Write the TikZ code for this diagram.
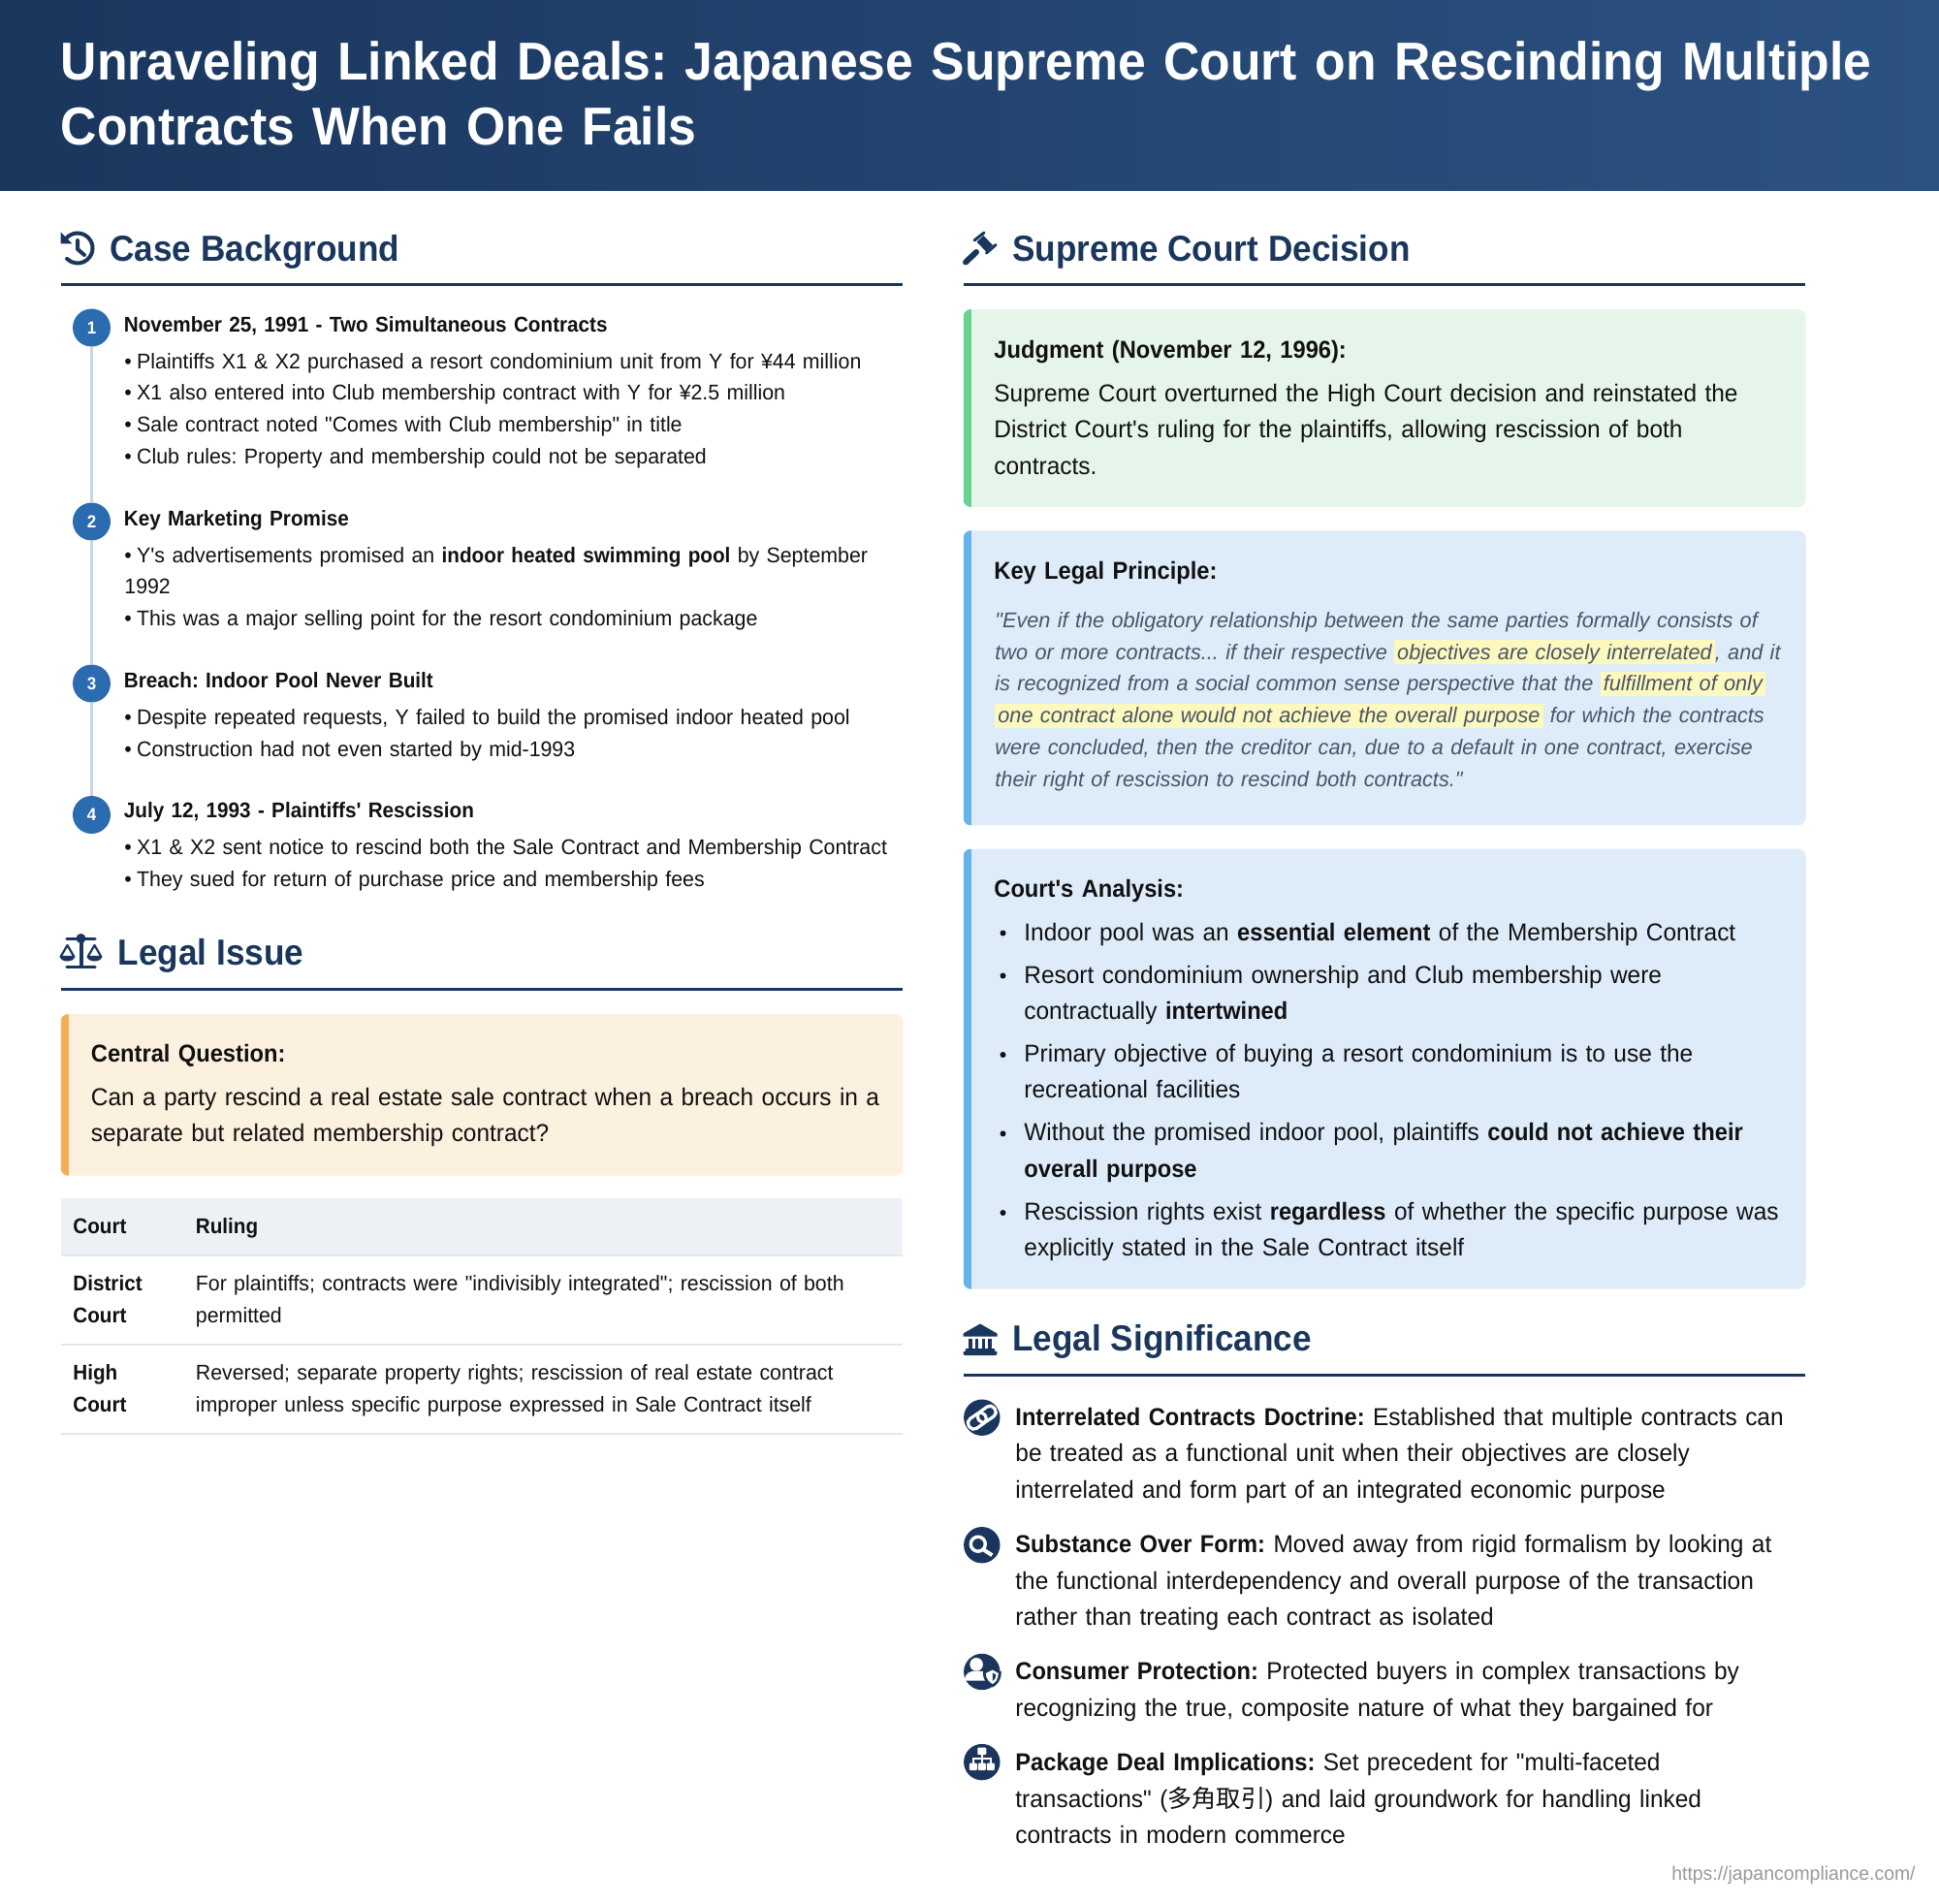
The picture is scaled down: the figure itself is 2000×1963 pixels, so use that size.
\documentclass[tikz,border=0pt]{standalone}
\usepackage{fontspec}
\setmainfont{Liberation Sans}[Ligatures=TeXOff,
    UprightFeatures={FakeStretch=0.97},
    BoldFeatures={FakeStretch=0.94},
    ItalicFeatures={FakeStretch=0.986}]
\newfontfamily\cjk{Noto Sans CJK JP}
\frenchspacing

\definecolor{navy}{HTML}{1A365D}
\definecolor{navyend}{HTML}{2C5282}
\definecolor{stepblue}{HTML}{2B6CB0}
\definecolor{stepgrey}{HTML}{CBD5E0}
\definecolor{orangefill}{HTML}{FCF0DE}
\definecolor{orangebar}{HTML}{F6AD55}
\definecolor{greenfill}{HTML}{E6F5EA}
\definecolor{greenbar}{HTML}{68D391}
\definecolor{bluefill}{HTML}{DEECFA}
\definecolor{bluebar}{HTML}{63B3ED}
\definecolor{tablehead}{HTML}{EDF0F5}
\definecolor{tablerule}{HTML}{E2E8F0}
\definecolor{quotegrey}{HTML}{4A5568}
\definecolor{markyellow}{HTML}{FCF8BE}
\definecolor{bodyblack}{HTML}{111111}

\newcommand{\markup}[1]{{\setlength\fboxsep{0pt}\colorbox{markyellow}{\rule[-2.5pt]{0pt}{12.5pt}\kern1.5pt#1\kern1.5pt}}}
\newcommand{\pip}{•\kern-1pt\ }
% left, top, bottom, fill, bar
\newcommand{\panelbox}[5]{%
    \fill[#4, rounded corners=4pt] (#1,#2) rectangle (#1+869,#3);
    \begin{scope}
        \clip[rounded corners=4pt] (#1,#2) rectangle (#1+869,#3);
        \fill[#5] (#1,#2) rectangle (#1+8,#3);
    \end{scope}}

\tikzset{
    titletext/.style = {anchor=base west, inner sep=0pt, text width=1900*0.5pt, align=left, text=white,
        font=\fontsize{27.5}{33.7}\selectfont\bfseries},
    headtext/.style = {anchor=base west, inner sep=0pt, text=navy,
        font=\fontsize{18.7}{24}\selectfont\bfseries},
    headrule/.style = {navy, line width=1.5pt},
    stepdot/.style = {circle, fill=stepblue, text=white, minimum size=19.5pt, inner sep=0pt,
        font=\fontsize{9}{10}\selectfont\bfseries},
    stepline/.style = {stepgrey, line width=1.75pt},
    smalltext/.style = {anchor=base west, inner sep=0pt, text width=440pt, align=left, text=bodyblack,
        font=\fontsize{11}{16.4}\selectfont},
    bigtext/.style = {anchor=base west, inner sep=0pt, text width=440pt, align=left, text=bodyblack,
        font=\fontsize{12.6}{18.85}\selectfont},
    quotetext/.style = {smalltext, text=quotegrey, font=\fontsize{11}{16.4}\selectfont\itshape},
    cellhead/.style = {smalltext, text width=200pt, font=\fontsize{11}{16.4}\selectfont\bfseries},
    icondot/.style = {circle, fill=navy, minimum size=18.7pt, inner sep=0pt},
    navyicon/.style = {navy, line width=2pt},
    pics/historyicon/.style = {code={
        \draw[navyicon, line cap=round] (0,0) ++(215:15.5) arc[start angle=215, end angle=495, radius=15.5];
        \fill[navy] (-17.5,-16.5) -- (-5.5,-4.5) -- (-17.5,-4.5) -- cycle;
        \draw[navyicon, line cap=round, line join=round] (0,-8) -- (0,1) -- (7,7);
    }},
    pics/gavelicon/.style = {code={
        \fill[navy] (3.5,-13) -- (13,-3) -- (6,3.5) -- (-3.5,-6.5) -- cycle;
        \draw[navy, line width=1.5pt, line cap=round] (4,-16) -- (-6,-8) (16,-3.5) -- (6.5,5);
        \draw[navy, line width=3pt, line cap=round] (-15,14.5) -- (-4,4);
    }},
    pics/scalesicon/.style = {code={
        \draw[navy, line width=1.75pt, line cap=round] (-14.5,-14.7) -- (14.5,-14.7);
        \fill[navy] (0,-15) circle (5);
        \draw[navyicon] (0,-14) -- (0,14);
        \draw[navy, line width=1.75pt, line cap=round] (-14.5,14.3) -- (14.5,14.3);
        \foreach \s in {-1,1} {
            \draw[navy, line width=1.1pt, line join=round] (\s*14,-8) -- (\s*14-7,4) -- (\s*14+7,4) -- cycle;
            \fill[navy] (\s*14+7.5,4) arc[start angle=0, end angle=180, x radius=7.5, y radius=4.5] -- cycle;
        }
    }},
    pics/landmarkicon/.style = {code={
        \fill[navy] (0,-16) -- (17.5,-6) -- (17.5,-3) -- (-17.5,-3) -- (-17.5,-6) -- cycle;
        \foreach \cx in {-10,-3.5,3.5,10} \fill[navy] (\cx-1.7,-1) rectangle (\cx+1.7,9);
        \fill[navy] (-15,9) rectangle (15,12);
        \fill[navy, rounded corners=1pt] (-17.5,12) rectangle (17.5,16.5);
    }},
    pics/linkicon/.style = {code={
        \begin{scope}[rotate=35]
            \draw[white, line width=1.6pt, rounded corners=2.6pt] (-16,-6) rectangle (4,6);
            \draw[white, line width=1.6pt, rounded corners=2.6pt] (-4,-6) rectangle (16,6);
        \end{scope}
    }},
    pics/searchicon/.style = {code={
        \draw[white, line width=1.7pt] (-4,-1) circle (7.5);
        \draw[white, line width=2pt] (2,5) -- (10.5,10.5);
    }},
    pics/usericon/.style = {code={
        \fill[white] (-5.7,-7.7) circle (6.8);
        \fill[white] (-17.7,9) .. controls (-17.7,1) and (-12,-1) .. (-6,-1) .. controls (0,-1) and (3,0) .. (5,1) -- (5,9) -- cycle;
        \fill[navy] (1,0) -- (11,-5) -- (20,0) .. controls (20,9) and (15,14) .. (11,16) .. controls (6,14) and (1,9) .. (1,0) -- cycle;
        \fill[white] (4,1.5) -- (11,-2) -- (17,1.5) .. controls (17,7) and (14,11) .. (11,12.5) .. controls (8,11) and (4,7) .. (4,1.5) -- cycle;
        \fill[navy] (11,1) -- (14.5,3) .. controls (14.5,6) and (13,8.5) .. (11,9.5) -- cycle;
    }},
    pics/sitemapicon/.style = {code={
        \fill[white, rounded corners=.5pt] (-4.5,-15) rectangle (4.5,-7.5);
        \draw[white, line width=.9pt] (0,-7.5) -- (0,1) (-9,1) -- (-9,-3.3) -- (9,-3.3) -- (9,1);
        \foreach \cx in {-9,0,9} \fill[white, rounded corners=.5pt] (\cx-4,1) rectangle (\cx+4,8.5);
    }}
}

\begin{document}
\begin{tikzpicture}[x=0.5pt, y=-0.5pt]
    \useasboundingbox (0,0) rectangle (2000,1963);
    \fill[white] (0,0) rectangle (2000,1963);

    % banner
    \shade[left color=navy, right color=navyend] (0,0) rectangle (2000,197);
    \node[titletext] (bannertitle) at (62.5,82.5) {Unraveling Linked Deals: Japanese Supreme Court on Rescinding Multiple\\Contracts When One Fails};

    % case background
    \pic at (80,256) {historyicon};
    \node[headtext] (backhead) at (113,269.5) {Case Background};
    \draw[headrule] (62.5,294) -- (931,294);

    \foreach \n/\yy in {1/338,2/538,3/705,4/840.5}
        \node[stepdot] (step\n) at (94.5,\yy) {\n};
    \draw[stepline] (step1) -- (step2);
    \draw[stepline] (step2) -- (step3);
    \draw[stepline] (step3) -- (step4);

    \node[smalltext] (stepa) at (127.5,342.7) {\textbf{November 25, 1991 - Two Simultaneous Contracts}};
    \node[smalltext] (stepabody) at (128,380) {\pip Plaintiffs X1 \& X2 purchased a resort condominium unit from Y for ¥44 million\\
        \pip X1 also entered into Club membership contract with Y for ¥2.5 million\\
        \pip Sale contract noted "Comes with Club membership" in title\\
        \pip Club rules: Property and membership could not be separated};
    \node[smalltext] (stepb) at (127.5,542.5) {\textbf{Key Marketing Promise}};
    \node[smalltext] (stepbbody) at (128,580) {\pip Y's advertisements promised an \textbf{indoor heated swimming pool} by September\\
        1992\\
        \pip This was a major selling point for the resort condominium package};
    \node[smalltext] (stepc) at (127.5,709.5) {\textbf{Breach: Indoor Pool Never Built}};
    \node[smalltext] (stepcbody) at (128,747.5) {\pip Despite repeated requests, Y failed to build the promised indoor heated pool\\
        \pip Construction had not even started by mid-1993};
    \node[smalltext] (stepd) at (127.5,843.7) {\textbf{July 12, 1993 - Plaintiffs' Rescission}};
    \node[smalltext] (stepdbody) at (128,881.3) {\pip X1 \& X2 sent notice to rescind both the Sale Contract and Membership Contract\\
        \pip They sued for return of purchase price and membership fees};

    % legal issue
    \pic at (83.5,983) {scalesicon};
    \node[headtext] (issuehead) at (121.5,995.5) {Legal Issue};
    \draw[headrule] (62.5,1020) -- (931,1020);
    \panelbox{62.5}{1046}{1212.7}{orangefill}{orangebar}
    \node[bigtext] (issuetitle) at (93.5,1095) {\textbf{Central Question:}};
    \node[bigtext] (issuebody) at (93.5,1140) {Can a party rescind a real estate sale contract when a breach occurs in a\\
        separate but related membership contract?};

    \fill[tablehead] (62.5,1236) rectangle (931,1295);
    \draw[tablerule, line width=.75pt] (62.5,1295) -- (931,1295);
    \draw[tablerule, line width=.75pt] (62.5,1387) -- (931,1387);
    \draw[tablerule, line width=.75pt] (62.5,1479) -- (931,1479);
    \node[cellhead] (courthead) at (75,1272.2) {Court};
    \node[cellhead] (rulinghead) at (201.5,1272.2) {Ruling};
    \node[cellhead] (districtcell) at (75,1331.6) {District\\Court};
    \node[smalltext] (districtruling) at (201.5,1331.6) {For plaintiffs; contracts were "indivisibly integrated"; rescission of both\\permitted};
    \node[cellhead] (highcell) at (75,1423.5) {High\\Court};
    \node[smalltext] (highruling) at (201.5,1423.5) {Reversed; separate property rights; rescission of real estate contract\\improper unless specific purpose expressed in Sale Contract itself};

    % supreme court decision
    \pic at (1011,256) {gavelicon};
    \node[headtext] (decisionhead) at (1044,269.5) {Supreme Court Decision};
    \draw[headrule] (993.5,294) -- (1862,294);
    \panelbox{993.5}{319}{523}{greenfill}{greenbar}
    \node[bigtext] (judgetitle) at (1025,369) {\textbf{Judgment (November 12, 1996):}};
    \node[bigtext] (judgebody) at (1025,414) {Supreme Court overturned the High Court decision and reinstated the\\
        District Court's ruling for the plaintiffs, allowing rescission of both\\
        contracts.};

    \panelbox{993.5}{547.3}{851.4}{bluefill}{bluebar}
    \node[bigtext] (principletitle) at (1025,597) {\textbf{Key Legal Principle:}};
    \node[quotetext] (principlebody) at (1026,647.3) {"Even if the obligatory relationship between the same parties formally consists of\\
        two or more contracts... if their respective \markup{objectives are closely interrelated}, and it\\
        is recognized from a social common sense perspective that the \markup{fulfillment of only}\\
        \markup{one contract alone would not achieve the overall purpose} for which the contracts\\
        were concluded, then the creditor can, due to a default in one contract, exercise\\
        their right of rescission to rescind both contracts."};

    \panelbox{993.5}{875.6}{1329.7}{bluefill}{bluebar}
    \node[bigtext] (analysistitle) at (1025,925) {\textbf{Court's Analysis:}};
    \foreach \yy in {962.5,1006.5,1088,1169.4,1251}
        \fill[bodyblack] (1034.5,\yy) circle (3);
    \node[bigtext] (analysisa) at (1056,970) {Indoor pool was an \textbf{essential element} of the Membership Contract};
    \node[bigtext] (analysisb) at (1056,1014) {Resort condominium ownership and Club membership were\\contractually \textbf{intertwined}};
    \node[bigtext] (analysisc) at (1056,1095) {Primary objective of buying a resort condominium is to use the\\recreational facilities};
    \node[bigtext] (analysisd) at (1056,1176.6) {Without the promised indoor pool, plaintiffs \textbf{could not achieve their}\\\textbf{overall purpose}};
    \node[bigtext] (analysise) at (1056,1258.2) {Rescission rights exist \textbf{regardless} of whether the specific purpose was\\explicitly stated in the Sale Contract itself};

    % legal significance
    \pic at (1011,1381.5) {landmarkicon};
    \node[headtext] (signifhead) at (1044,1393.5) {Legal Significance};
    \draw[headrule] (993.5,1418.4) -- (1862,1418.4);

    \node[icondot] (linkdot) at (1012.8,1462.2) {};
    \node[icondot] (searchdot) at (1012.8,1593.7) {};
    \node[icondot] (userdot) at (1012.8,1724.5) {};
    \node[icondot] (sitedot) at (1012.8,1817.6) {};
    \pic at (linkdot) {linkicon};
    \pic at (searchdot) {searchicon};
    \pic at (userdot) {usericon};
    \pic at (sitedot) {sitemapicon};

    \node[bigtext] (linktext) at (1047,1470) {\textbf{Interrelated Contracts Doctrine:} Established that multiple contracts can\\
        be treated as a functional unit when their objectives are closely\\
        interrelated and form part of an integrated economic purpose};
    \node[bigtext] (searchtext) at (1047,1601.4) {\textbf{Substance Over Form:} Moved away from rigid formalism by looking at\\
        the functional interdependency and overall purpose of the transaction\\
        rather than treating each contract as isolated};
    \node[bigtext] (usertext) at (1047,1732.8) {\textbf{Consumer Protection:} Protected buyers in complex transactions by\\
        recognizing the true, composite nature of what they bargained for};
    \node[bigtext] (sitetext) at (1047,1826.5) {\textbf{Package Deal Implications:} Set precedent for "multi-faceted\\
        transactions" ({\cjk 多角取引}) and laid groundwork for handling linked\\
        contracts in modern commerce};

    \node[anchor=base east, inner sep=0pt, text=gray!80, font=\fontsize{10}{12}\selectfont] (sourceurl) at (1976,1939) {https://japancompliance.com/};
\end{tikzpicture}
\end{document}
